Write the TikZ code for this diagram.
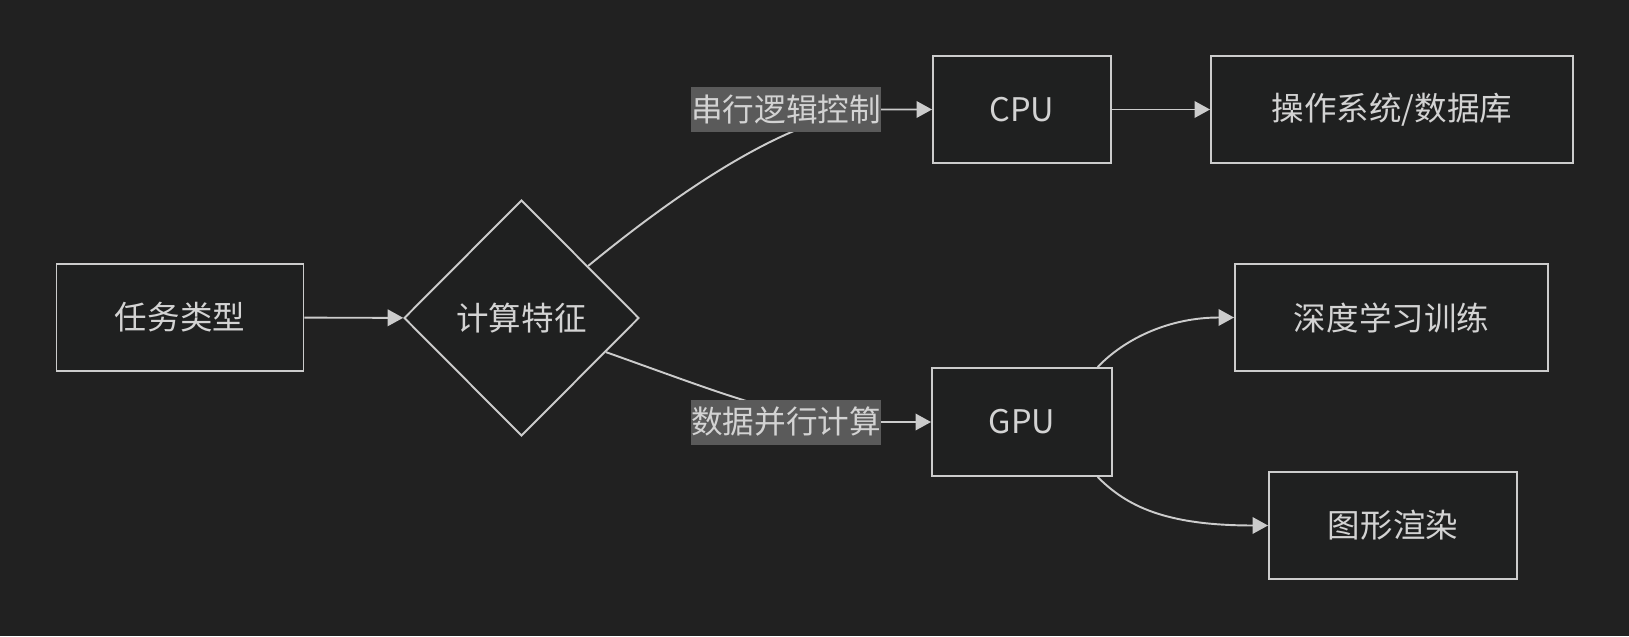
\documentclass[tikz,border=0pt]{standalone}
\usepackage{fontspec}
\setmainfont{Noto Sans CJK SC}
\usetikzlibrary{arrows.meta,shapes.geometric,backgrounds}
\definecolor{canvas}{HTML}{212121}
\definecolor{nodefill}{HTML}{1F2020}
\definecolor{linegray}{HTML}{CCCCCC}
\definecolor{textgray}{HTML}{D3D3D3}
\definecolor{labelfill}{HTML}{5A5A5A}
\tikzset{
  box/.style={draw=linegray, line width=1.1pt, fill=nodefill, text=textgray, align=center, inner sep=0pt, minimum height=21.4mm},
  decision/.style={diamond, draw=linegray, line width=1.1pt, fill=nodefill, text=textgray, inner sep=0pt, minimum width=47mm, minimum height=47.2mm},
  edgelabel/.style={fill=labelfill, text=textgray, inner sep=0pt, minimum width=38mm, minimum height=9mm, font=\fontsize{18pt}{22pt}\selectfont},
  arrow/.style={-{Triangle[length=3.1mm, width=3.3mm]}, line width=1.1pt, draw=linegray}
}

\begin{document}
\begin{tikzpicture}[font=\fontsize{18.5pt}{22pt}\selectfont]
  \begin{scope}[on background layer]
    \fill[canvas] (0,0) rectangle (32.58,12.72);
  \end{scope}
  \useasboundingbox (0,0) rectangle (32.58,12.72);

  \node[box, minimum width=49.4mm] (task) at (3.60,6.37) {任务类型};
  \node[decision] (feature) at (10.43,6.36) {计算特征};

  \node[box, minimum width=35.6mm] (cpu) at (20.44,10.53) {CPU};
  \node[box, minimum width=72.4mm] (osdb) at (27.84,10.53) {操作系统/数据库};

  \node[box, minimum width=36mm, minimum height=21.6mm] (gpu) at (20.44,4.28) {GPU};
  \node[box, minimum width=62.6mm] (dltrain) at (27.83,6.37) {深度学习训练};
  \node[box, minimum width=49.6mm] (render) at (27.86,2.21) {图形渲染};

  \node[edgelabel] (lblserial) at (15.72,10.53) {串行逻辑控制};
  \node[edgelabel] (lblparallel) at (15.72,4.28) {数据并行计算};

  \begin{scope}[on background layer]
    \draw[arrow] (task) -- (feature);
    \draw[arrow] (feature.38) .. controls (14.5,9.65) and (16.4,10.53) .. (lblserial.east) -- (cpu);
    \draw[arrow] (feature.-22) .. controls (14.80,4.725) and (15.8,4.28) .. (lblparallel.east) -- (gpu);
    \draw[arrow] (cpu) -- (osdb);
    \draw[arrow] (gpu.36) .. controls (22.51,5.96) and (23.4,6.37) .. (dltrain.west);
    \draw[arrow] (gpu.-36) .. controls (22.53,2.60) and (23.3,2.21) .. (render.west);
  \end{scope}
\end{tikzpicture}
\end{document}
